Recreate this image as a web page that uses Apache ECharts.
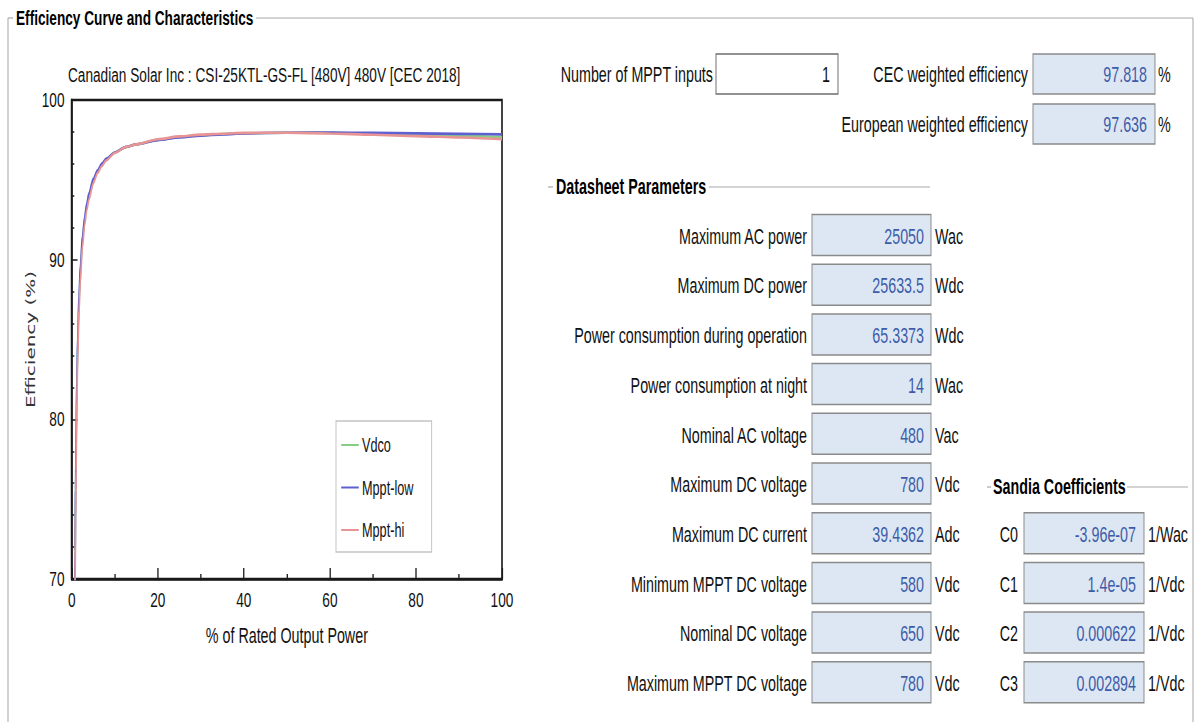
<!DOCTYPE html>
<html>
<head>
<meta charset="utf-8">
<script src="https://cdn.jsdelivr.net/npm/echarts@6/dist/echarts.min.js"></script>
<style>
  html, body { margin: 0; padding: 0; background: #fff; overflow: hidden; }
  /* the reference is horizontally squeezed, so draw wide and squeeze the same way */
  #main { width: 1849px; height: 722px; transform: scaleX(0.65); transform-origin: 0 0; }
</style>
</head>
<body>
<div id="main"></div>
<script>
// % of rated output power
const pctOutput = [0.75, 0.8, 0.9, 1, 1.2, 1.4, 1.7, 2, 2.5, 3, 3.5, 4, 5, 6, 7, 8, 10, 12.5, 15, 20, 25, 30, 35, 40, 50, 60, 70, 80, 90, 100];
// efficiency (%) per series
const effVdco = [68.81, 71.24, 75.06, 77.94, 81.99, 84.71, 87.43, 89.25, 91.23, 92.5, 93.39, 94.05, 94.96, 95.55, 95.97, 96.28, 96.71, 97.05, 97.22, 97.5, 97.68, 97.79, 97.86, 97.91, 97.95, 97.94, 97.89, 97.83, 97.76, 97.68];
const effMpptLow = [69.3, 71.74, 75.56, 78.44, 82.34, 85.01, 87.7, 89.5, 91.43, 92.65, 93.51, 94.15, 95.06, 95.6, 96.02, 96.33, 96.71, 97.05, 97.22, 97.48, 97.66, 97.77, 97.85, 97.91, 97.95, 97.96, 97.94, 97.91, 97.88, 97.85];
const effMpptHi = [67.31, 69.74, 73.86, 76.74, 81.09, 83.96, 86.83, 88.65, 90.78, 92.15, 93.09, 93.75, 94.76, 95.43, 95.85, 96.2, 96.68, 97.05, 97.22, 97.54, 97.72, 97.83, 97.89, 97.94, 97.95, 97.9, 97.82, 97.74, 97.65, 97.55];
const seriesNames = ['Vdco', 'Mppt-low', 'Mppt-hi'];

// form fields on the right
const paramLabels = ['Maximum AC power', 'Maximum DC power', 'Power consumption during operation', 'Power consumption at night',
  'Nominal AC voltage', 'Maximum DC voltage', 'Maximum DC current', 'Minimum MPPT DC voltage', 'Nominal DC voltage', 'Maximum MPPT DC voltage'];
const paramValues = ['25050', '25633.5', '65.3373', '14', '480', '780', '39.4362', '580', '650', '780'];
const paramUnits = ['Wac', 'Wdc', 'Wdc', 'Wac', 'Vac', 'Vdc', 'Adc', 'Vdc', 'Vdc', 'Vdc'];
const sandiaLabels = ['C0', 'C1', 'C2', 'C3'];
const sandiaValues = ['-3.96e-07', '1.4e-05', '0.000622', '0.002894'];
const sandiaUnits = ['1/Wac', '1/Vdc', '1/Vdc', '1/Vdc'];

const S = 0.65;
const sx = v => v / S;
const FF = '"Liberation Sans", Arial, sans-serif';
const valueColor = '#3d5ca8';
const boxFill = '#dde7f3';
const boxStroke = '#8a8a8a';
const frameGray = '#a8a8a8';

let g = [];
function line(x1, y1, x2, y2, color, w) {
  g.push({ type: 'line', silent: true, shape: { x1: sx(x1), y1: y1, x2: sx(x2), y2: y2 }, style: { stroke: color, lineWidth: w } });
}
function text(x, y, str, opt) {
  g.push({ type: 'text', silent: true, x: sx(x), y: y,
    style: Object.assign({ text: str, fontFamily: FF, fontSize: 22, fill: '#111', align: 'left', verticalAlign: 'middle' }, opt || {}) });
}
function box(x, y, w, h, fill, stroke) {
  g.push({ type: 'rect', silent: true, shape: { x: sx(x), y: y, width: w / S, height: h }, style: { fill: fill, stroke: stroke, lineWidth: 1.5 } });
}

// outer group box
line(8, 18, 8, 730, frameGray, 1.6);
line(8, 18, 13, 18, frameGray, 1.2);
line(256, 18, 1193, 18, frameGray, 1.2);
line(1193, 18, 1193, 730, frameGray, 1.6);
text(16, 18, 'Efficiency Curve and Characteristics', { fontWeight: 'bold', fontSize: 21, fill: '#000' });

// top fields
text(713, 74, 'Number of MPPT inputs', { align: 'right' });
box(716, 54, 122, 40, '#fff', '#6d6d6d');
text(830, 74, '1', { align: 'right', fill: '#111' });
text(1028, 74, 'CEC weighted efficiency', { align: 'right' });
box(1033, 54, 122, 40, boxFill, boxStroke);
text(1147, 74, '97.818', { align: 'right', fill: valueColor });
text(1158, 74, '%');
text(1028, 124, 'European weighted efficiency', { align: 'right' });
box(1033, 104, 122, 40, boxFill, boxStroke);
text(1147, 124, '97.636', { align: 'right', fill: valueColor });
text(1158, 124, '%');

// datasheet parameters
line(548, 187, 553, 187, frameGray, 1.2);
text(556, 186, 'Datasheet Parameters', { fontWeight: 'bold', fill: '#000' });
line(709, 187, 930, 187, frameGray, 1.2);
paramLabels.forEach((lab, i) => {
  const top = 214.5 + 49.7 * i;
  const cy = top + 21.5;
  text(807, cy, lab, { align: 'right' });
  box(812, top, 119, 41, boxFill, boxStroke);
  text(924, cy, paramValues[i], { align: 'right', fill: valueColor });
  text(935, cy, paramUnits[i]);
});

// sandia coefficients
line(987, 487, 991, 487, frameGray, 1.2);
text(993, 486, 'Sandia Coefficients', { fontWeight: 'bold', fill: '#000' });
line(1127, 487, 1188, 487, frameGray, 1.2);
sandiaLabels.forEach((lab, j) => {
  const top = 214.5 + 49.7 * (j + 6);
  const cy = top + 21.5;
  text(1018, cy, lab, { align: 'right' });
  box(1024, top, 120, 41, boxFill, boxStroke);
  text(1136, cy, sandiaValues[j], { align: 'right', fill: valueColor });
  text(1148, cy, sandiaUnits[j]);
});

const chart = echarts.init(document.getElementById('main'), null, { renderer: 'svg' });

const lineColors = ['#84cf84', '#5f5fd2', '#e89494'];
const effSets = [effVdco, effMpptLow, effMpptHi];

chart.setOption({
  animation: false,
  title: {
    text: 'Canadian Solar Inc : CSI-25KTL-GS-FL [480V] 480V [CEC 2018]',
    left: sx(68), top: 64, padding: 0,
    textStyle: { fontFamily: FF, fontSize: 21, fontWeight: 'normal', color: '#111' }
  },
  grid: {
    left: sx(71.7), top: 100, width: sx(502) - sx(71.7), height: 479,
    show: true, borderColor: '#1a1a1a', borderWidth: 2.5, backgroundColor: 'transparent'
  },
  legend: {
    orient: 'vertical', left: sx(336), top: 421,
    padding: [14, 28, 12, 8], itemGap: 22.5, itemWidth: 27, itemHeight: 2, icon: 'rect',
    borderColor: '#c4c4c4', borderWidth: 1.5,
    textStyle: { fontFamily: FF, fontSize: 19.5, lineHeight: 20, color: '#111' },
    data: seriesNames
  },
  xAxis: {
    type: 'value', min: 0, max: 100, interval: 20,
    name: '% of Rated Output Power', nameLocation: 'middle', nameGap: 45,
    nameTextStyle: { fontFamily: FF, fontSize: 22, color: '#111' },
    axisLine: { lineStyle: { color: '#1a1a1a', width: 2.5 } },
    axisTick: { inside: true, length: 11, lineStyle: { color: '#1a1a1a', width: 2 } },
    minorTick: { show: true, splitNumber: 2, length: 5, lineStyle: { color: '#1a1a1a', width: 2 } },
    axisLabel: { margin: 10, fontFamily: FF, fontSize: 21, color: '#111' },
    splitLine: { show: false }
  },
  yAxis: {
    type: 'value', min: 70, max: 100, interval: 10,
    name: 'Efficiency (%)', nameLocation: 'middle', nameGap: 54,
    nameTextStyle: { fontFamily: '"DejaVu Sans", Verdana, sans-serif', fontSize: 20, color: '#333' },
    axisLine: { lineStyle: { color: '#1a1a1a', width: 3 } },
    axisTick: { inside: true, length: 9, lineStyle: { color: '#1a1a1a', width: 1.5 } },
    minorTick: { show: true, splitNumber: 5, length: 4, lineStyle: { color: '#1a1a1a', width: 1.5 } },
    axisLabel: { margin: 11, fontFamily: FF, fontSize: 21, color: '#111' },
    splitLine: { show: false }
  },
  series: seriesNames.map((name, k) => ({
    name: name,
    type: 'line',
    showSymbol: false,
    symbol: 'none',
    smooth: 0.25,
    smoothMonotone: 'x',
    clip: true,
    color: lineColors[k],
    lineStyle: { width: 2.6, color: lineColors[k] },
    data: pctOutput.map((x, i) => [x, effSets[k][i]])
  })),
  graphic: g
});
</script>
</body>
</html>
